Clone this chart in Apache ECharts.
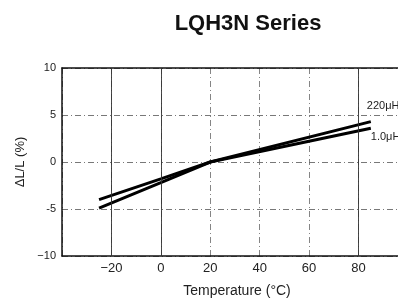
<!DOCTYPE html>
<html>
<head>
<meta charset="utf-8">
<script src="https://cdn.jsdelivr.net/npm/echarts@6/dist/echarts.min.js"></script>
<style>
  html, body { margin: 0; padding: 0; background: #fff; }
  #chart { width: 398px; height: 299px; }
</style>
</head>
<body>
<div id="chart"></div>
<script>
// values (temperature in °C, ΔL/L in %)
const temps220 = [-25, 0, 20, 85]
const vals220 = [-4.9, -2.2, 0, 4.3]
const temps10 = [-25, 0, 20, 85]
const vals10 = [-4.0, -1.8, 0, 3.6]
const solidGridX = [-20, 0, 80]   // vertical grid lines drawn solid in the original
const xTickLabels = { '-20': '−20', '0': '0', '20': '20', '40': '40', '60': '60', '80': '80' }
const yTickLabels = { '10': '10', '5': '5', '0': '0', '-5': '-5', '-10': '−10' }

const font = '"Liberation Sans", Arial, sans-serif'

const pairs = (xs, ys) => xs.map((x, i) => [x, ys[i]])

const chart = echarts.init(document.getElementById('chart'))

chart.setOption({
  animation: false,
  title: {
    text: 'LQH3N Series',
    left: 243,
    textAlign: 'center',
    top: 8,
    textStyle: { fontFamily: font, fontSize: 22, fontWeight: 'bold', color: '#111' }
  },
  grid: { left: 62, right: 0, top: 68, bottom: 43, outerBoundsMode: 'none' },
  xAxis: [
    {
      type: 'value',
      min: -40,
      max: 96,
      interval: 20,
      name: 'Temperature (°C)',
      nameLocation: 'middle',
      nameGap: 28,
      nameTextStyle: { fontFamily: font, fontSize: 14, color: '#222', padding: [0, 0, 0, 14] },
      axisLine: { show: true, onZero: false, lineStyle: { color: '#111', width: 1.5 } },
      axisTick: { show: false },
      axisLabel: {
        fontFamily: font, fontSize: 13, color: '#222', margin: 6,
        formatter: v => xTickLabels[String(v)] || ''
      },
      splitLine: { show: true, lineStyle: { color: '#666', width: 0.8, type: [6, 3, 1, 3] } }
    },
    {
      type: 'value',
      position: 'top',
      min: -40,
      max: 96,
      axisLine: { show: true, onZero: false, lineStyle: { color: '#111', width: 1.5 } },
      axisTick: { show: false },
      axisLabel: { show: false },
      splitLine: { show: false }
    }
  ],
  yAxis: {
    type: 'value',
    min: -10,
    max: 10,
    interval: 5,
    name: 'ΔL/L (%)',
    nameLocation: 'middle',
    nameGap: 34,
    nameRotate: 90,
    nameTextStyle: { fontFamily: font, fontSize: 13, color: '#222' },
    axisLine: { show: true, onZero: false, lineStyle: { color: '#111', width: 1.5 } },
    axisTick: { show: false },
    axisLabel: {
      fontFamily: font, fontSize: 11, color: '#222', margin: 6,
      formatter: v => yTickLabels[String(v)] || ''
    },
    splitLine: { show: true, lineStyle: { color: '#555', width: 0.8, type: [6, 3, 1, 3] } }
  },
  series: [
    {
      name: '220μH',
      type: 'line',
      data: pairs(temps220, vals220),
      symbol: 'none',
      lineStyle: { color: '#000', width: 3 },
      endLabel: {
        show: true, formatter: '220μH', fontFamily: font, fontSize: 11, color: '#222',
        offset: [-12, -16]
      },
      markLine: {
        silent: true,
        symbol: 'none',
        label: { show: false },
        lineStyle: { color: '#333', width: 0.9, type: 'solid' },
        data: solidGridX.map(x => ({ xAxis: x }))
      }
    },
    {
      name: '1.0μH',
      type: 'line',
      data: pairs(temps10, vals10),
      symbol: 'none',
      lineStyle: { color: '#000', width: 3 },
      endLabel: {
        show: true, formatter: '1.0μH', fontFamily: font, fontSize: 11, color: '#222',
        offset: [-8, 9]
      }
    }
  ]
})
</script>
</body>
</html>
